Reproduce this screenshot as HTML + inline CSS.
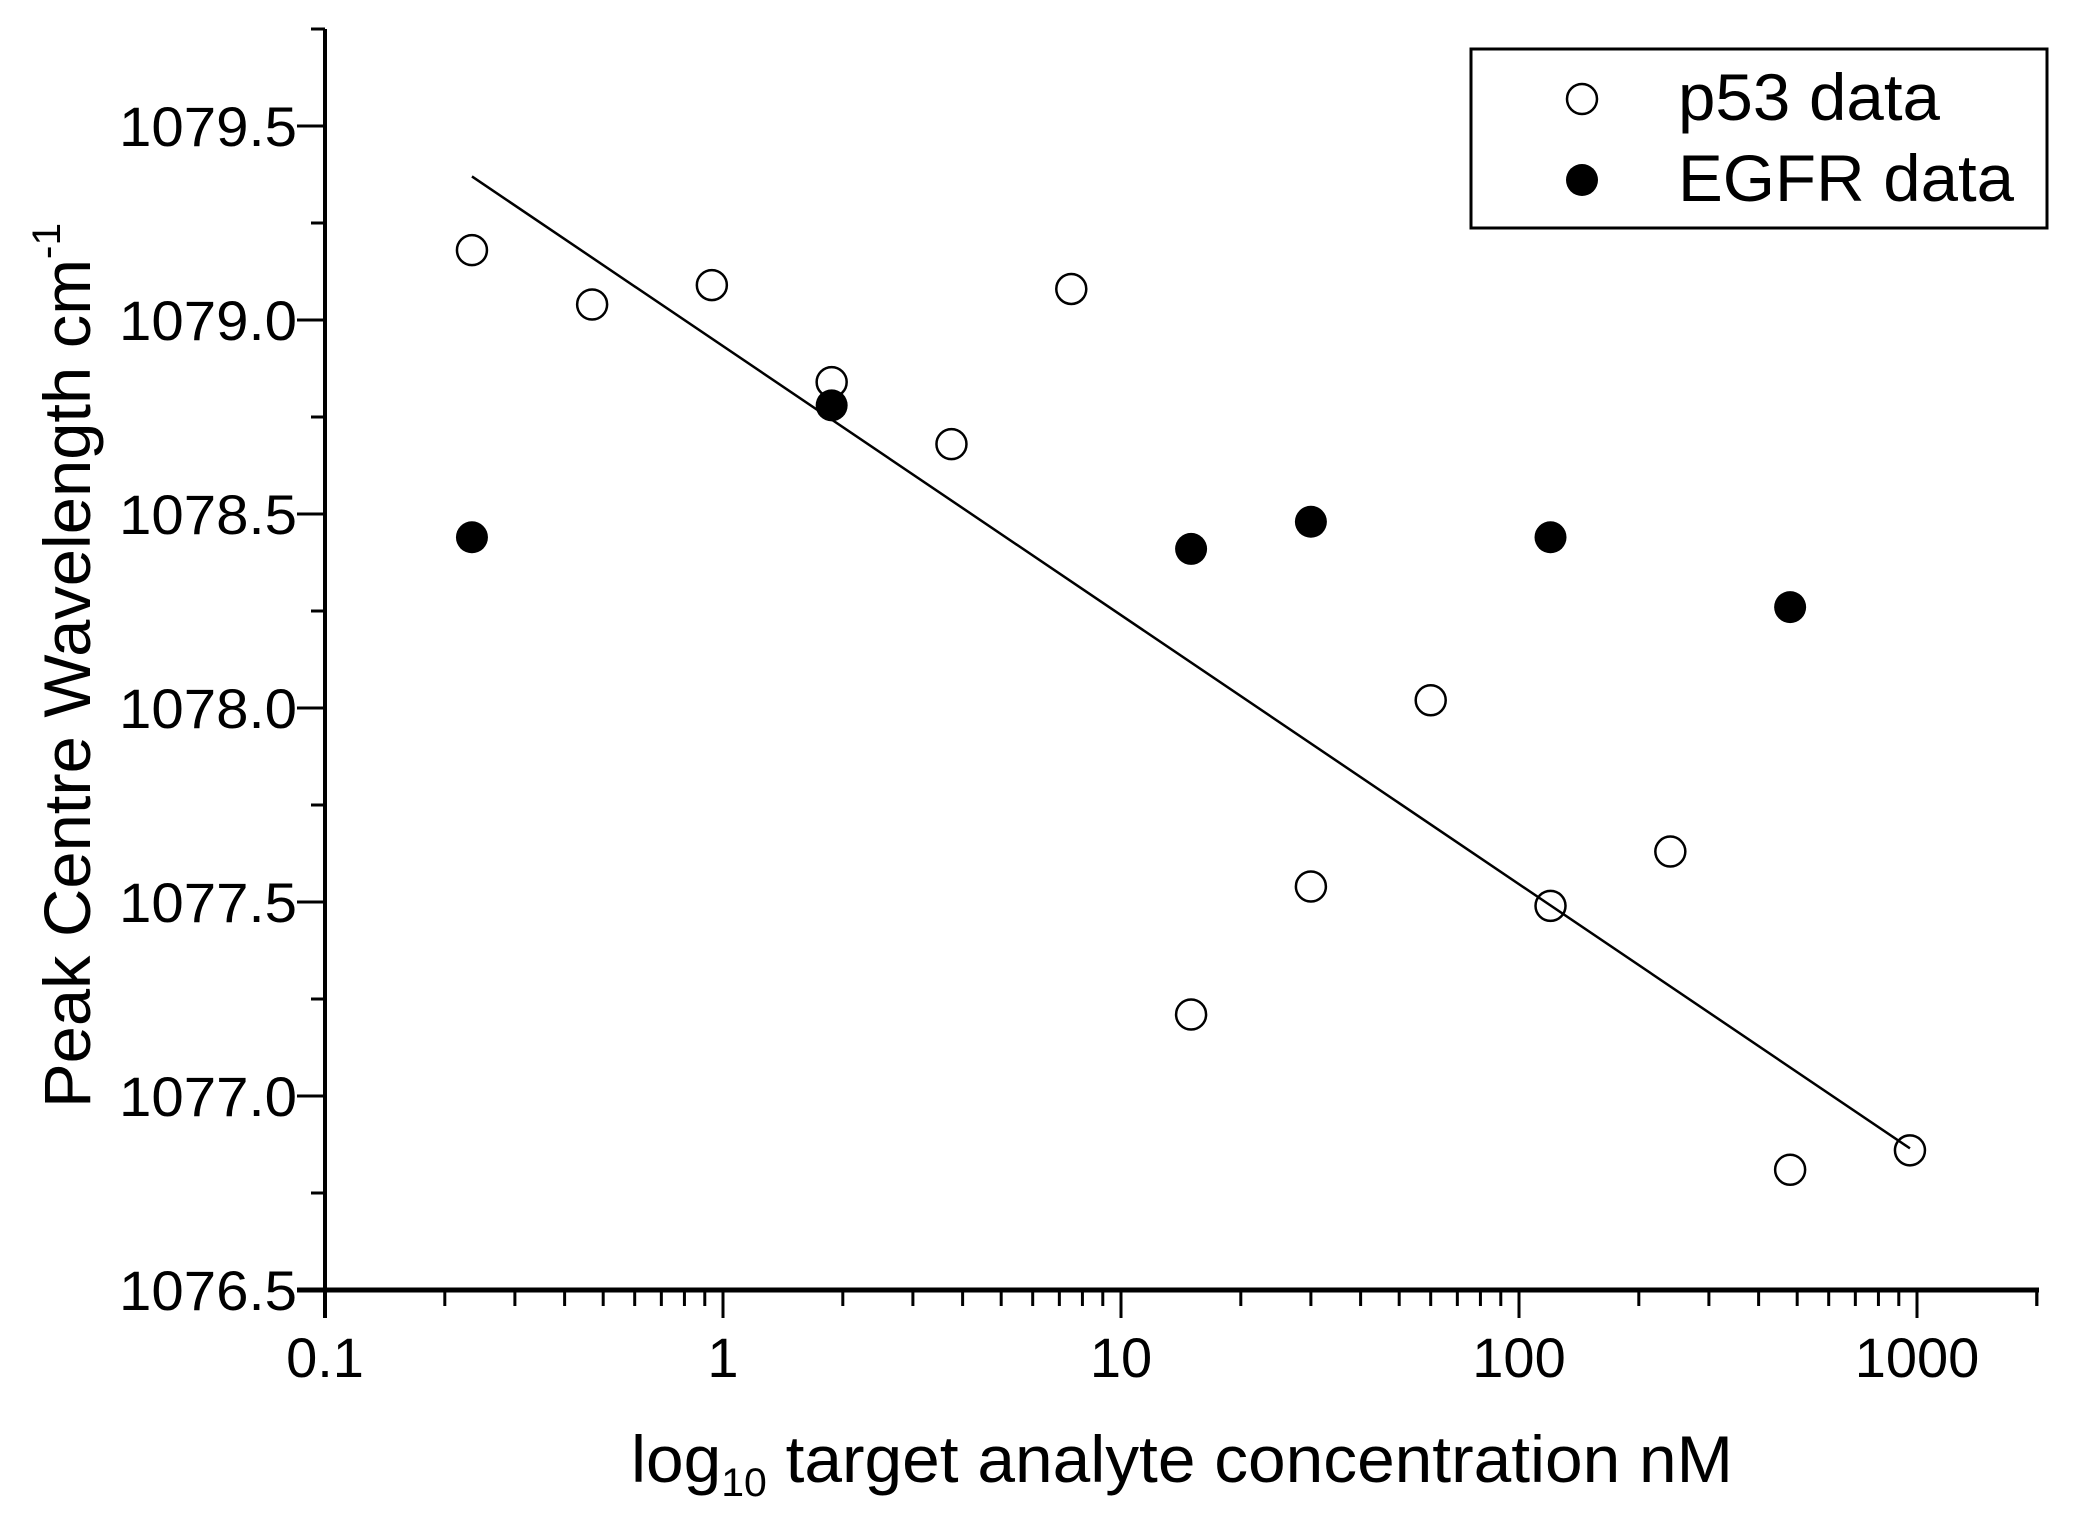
<!DOCTYPE html>
<html><head><meta charset="utf-8"><style>
html,body{margin:0;padding:0;background:#fff;}
svg{display:block;font-family:"Liberation Sans",Arial,sans-serif;}
</style></head><body>
<svg id="chart" width="2074" height="1530" viewBox="0 0 2074 1530" xmlns="http://www.w3.org/2000/svg">
<rect x="0" y="0" width="2074" height="1530" fill="#fff"/>
<g id="axes"></g>
<g id="fit"></g>
<g id="marks"></g>
<text x="631" y="1482" font-size="66" textLength="1102" lengthAdjust="spacingAndGlyphs">log<tspan font-size="40" dy="14">10</tspan><tspan dy="-14"> target analyte concentration nM</tspan></text>
<text transform="translate(90,1108) rotate(-90)" x="0" y="0" font-size="66" textLength="885" lengthAdjust="spacingAndGlyphs">Peak Centre Wavelength cm<tspan font-size="40" dy="-30">-1</tspan></text>
<g>
<rect x="1471" y="49" width="576" height="179" fill="#fff" stroke="#000" stroke-width="3"/>
<g>
<circle cx="1582" cy="99" r="15" fill="#fff" stroke="#000" stroke-width="2.5"/>
<text x="1678" y="120" font-size="66" textLength="262" lengthAdjust="spacingAndGlyphs">p53 data</text></g>
<g>
<circle cx="1582" cy="180" r="16" fill="#000"/>
<text x="1678" y="201" font-size="66" textLength="336" lengthAdjust="spacingAndGlyphs">EGFR data</text></g>
</g>
</svg>
<script>
const p53X=[0.234,0.469,0.9375,1.875,3.75,7.5,15,30,60,120,240,480,960];
const p53Y=[1079.18,1079.04,1079.09,1078.84,1078.68,1079.08,1077.21,1077.54,1078.02,1077.49,1077.63,1076.81,1076.86];
const egfrX=[0.234,1.875,15,30,120,480];
const egfrY=[1078.44,1078.78,1078.41,1078.48,1078.44,1078.26];
const fitX=[0.234,960];
const fitY=[1079.37,1076.865];
const yTicks=[1076.5,1077.0,1077.5,1078.0,1078.5,1079.0,1079.5];
const xTicks=[0.1,1,10,100,1000];
const xTickLabels=["0.1","1","10","100","1000"];

const NS="http://www.w3.org/2000/svg";
const X0=325,DEC=398,Y0=1290,YPX=388;
function sx(v){return X0+(Math.log10(v)+1)*DEC;}
function sy(v){return Y0-(v-1076.5)*YPX;}
function mk(tag,attrs,parent){const e=document.createElementNS(NS,tag);for(const k in attrs)e.setAttribute(k,attrs[k]);parent.appendChild(e);return e;}
const axes=document.getElementById('axes');
let l=mk('line',{x1:X0,y1:29,x2:X0,y2:1318,stroke:'#000','stroke-width':4},axes);


l=mk('line',{x1:297,y1:Y0,x2:2039,y2:Y0,stroke:'#000','stroke-width':5},axes);


for(let v=1076.5;v<=1079.76;v+=0.25){
  const y=sy(v);const major=Math.abs((v*2)-Math.round(v*2))<1e-6;
  const t=mk('line',{x1:major?297:311,y1:y,x2:X0,y2:y,stroke:'#000','stroke-width':3},axes);
  
  
}
yTicks.forEach(v=>{
  const t=mk('text',{x:297,y:sy(v)+20,'font-size':56,'text-anchor':'end',textLength:178,lengthAdjust:'spacingAndGlyphs'},axes);
  t.textContent=v.toFixed(1);
  
  
});
for(let d=-1;d<=3;d++){
  for(let m=1;m<=9;m++){
    const v=m*Math.pow(10,d);if(v>2000)break;
    const x=sx(v);
    const t=mk('line',{x1:x,y1:Y0,x2:x,y2:m===1?1318:1306,stroke:'#000','stroke-width':3},axes);
    
    
  }
}
let te=mk('line',{x1:sx(2000),y1:Y0,x2:sx(2000),y2:1306,stroke:'#000','stroke-width':3},axes);


xTicks.forEach((v,i)=>{
  const t=mk('text',{x:sx(v),y:1377,'font-size':56,'text-anchor':'middle'},axes);
  t.textContent=xTickLabels[i];
  
  
});
const fit=document.getElementById('fit');
const fl=mk('line',{x1:sx(fitX[0]),y1:sy(fitY[0]),x2:sx(fitX[1]),y2:sy(fitY[1]),stroke:'#000','stroke-width':2.5},fit);


const marks=document.getElementById('marks');
p53X.forEach((x,i)=>{
  const c=mk('circle',{cx:sx(x),cy:sy(p53Y[i]),r:15,fill:'none',stroke:'#000','stroke-width':2.5},marks);
  
  
});
egfrX.forEach((x,i)=>{
  const c=mk('circle',{cx:sx(x),cy:sy(egfrY[i]),r:16,fill:'#000'},marks);
  
  
});
</script>
</body></html>
